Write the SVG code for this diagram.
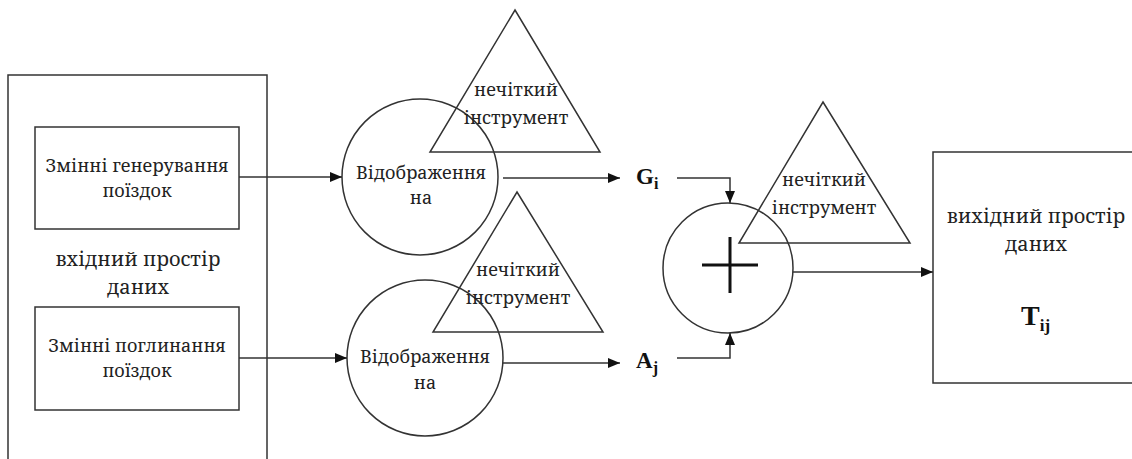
<svg xmlns="http://www.w3.org/2000/svg" width="1132" height="459" viewBox="0 0 1132 459">
<style>
.s{fill:none;stroke:#333;stroke-width:1.5}
.t{font-family:"Noto Serif","DejaVu Serif",serif;fill:#222;text-anchor:middle}
.sm{font-size:18px}
.md{font-size:18px}
.lg{font-size:20px}
.L{font-family:"Liberation Serif","Noto Serif",serif;font-weight:bold;fill:#111}
</style>
<defs>
<marker id="ah" viewBox="0 0 12 10" refX="12" refY="5" markerWidth="12" markerHeight="10" markerUnits="userSpaceOnUse" orient="auto">
<path d="M0,0 L12,5 L0,10 Z" fill="#111"/>
</marker>
</defs>
<rect width="1132" height="459" fill="#fff"/>
<g id="input-space">
<rect class="s" x="8" y="75" width="259" height="400"/>
<text class="t lg" x="138" y="266">вхідний простір</text>
<text class="t lg" x="138" y="293.5">даних</text>
</g>
<g id="gen-box">
<rect class="s" x="35" y="127" width="204" height="102"/>
<text class="t sm" x="137" y="172">Змінні генерування</text>
<text class="t sm" x="137" y="197">поїздок</text>
</g>
<g id="abs-box">
<rect class="s" x="35" y="307" width="204" height="103"/>
<text class="t sm" x="137" y="352">Змінні поглинання</text>
<text class="t sm" x="137" y="377">поїздок</text>
</g>
<g id="map1">
<circle class="s" cx="420" cy="177" r="78"/>
<text class="t md" x="421" y="179">Відображення</text>
<text class="t md" x="421" y="204">на</text>
</g>
<g id="fuzzy1">
<polygon class="s" points="515,10 600,152 430,152"/>
<text class="t sm" x="516" y="96">нечіткий</text>
<text class="t sm" x="516" y="124">інструмент</text>
</g>
<g id="map2">
<circle class="s" cx="425" cy="358" r="78"/>
<text class="t md" x="425" y="363">Відображення</text>
<text class="t md" x="425" y="389">на</text>
</g>
<g id="fuzzy2">
<polygon class="s" points="517,192 603,332 433,332"/>
<text class="t sm" x="518" y="276">нечіткий</text>
<text class="t sm" x="518" y="304">інструмент</text>
</g>
<g id="Gi">
<text class="L" x="636" y="184" font-size="23px">G<tspan font-size="16px" dy="5">i</tspan></text>
</g>
<g id="Aj">
<text class="L" x="636" y="368" font-size="23px">A<tspan font-size="16px" dy="5">j</tspan></text>
</g>
<g id="sum">
<circle class="s" cx="728" cy="268" r="65"/>
<path d="M702,265 H758 M730,237 V293" stroke="#111" stroke-width="3" fill="none"/>
</g>
<g id="fuzzy3">
<polygon class="s" points="823,102 910,243 739,243"/>
<text class="t sm" x="824" y="186">нечіткий</text>
<text class="t sm" x="824" y="214">інструмент</text>
</g>
<g id="output-space">
<rect class="s" x="933" y="152" width="210" height="231"/>
<text class="t lg" x="1036" y="223">вихідний простір</text>
<text class="t lg" x="1036" y="250.5">даних</text>
<text class="L" x="1021" y="325" font-size="28px">T<tspan font-size="17px" dy="6">ij</tspan></text>
</g>
<g id="connectors">
<path class="s" d="M239,177 H342" marker-end="url(#ah)"/>
<path class="s" d="M239,358 H347" marker-end="url(#ah)"/>
<path class="s" d="M503,178 H620" marker-end="url(#ah)"/>
<path class="s" d="M503,363 H620" marker-end="url(#ah)"/>
<path class="s" d="M677,178 H730 V203" marker-end="url(#ah)"/>
<path class="s" d="M677,358 H730 V333" marker-end="url(#ah)"/>
<path class="s" d="M793,272 H933" marker-end="url(#ah)"/>
</g>
</svg>
